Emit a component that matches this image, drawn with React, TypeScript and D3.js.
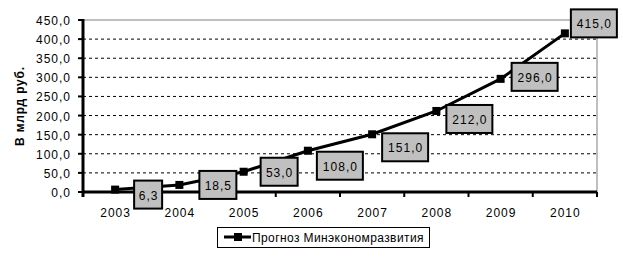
import React from "react";
import * as d3 from "d3";

const years = ["2003", "2004", "2005", "2006", "2007", "2008", "2009", "2010"];
const values = [6.3, 18.5, 53.0, 108.0, 151.0, 212.0, 296.0, 415.0];
const yTicks = [0, 50, 100, 150, 200, 250, 300, 350, 400, 450];
const seriesName = "Прогноз Минэкономразвития";
const yTitle = "В млрд руб.";

// manual label placement offsets (box left/top relative to point)
const labelOffsets: [number, number][] = [
  [19, -9], [20, -14], [17, -14], [9, 1], [10, -1], [10, -6], [11, -16], [6, -24],
];

const fmt = (v: number) => v.toFixed(1).replace(".", ",");

export default function App() {
  const W = 623, H = 259;
  const left = 83, right = 597, top = 20, bottom = 192;
  const x = d3.scaleBand<string>().domain(years).range([left, right]);
  const y = d3.scaleLinear().domain([0, 450]).range([bottom, top]);
  const cx = (yr: string) => (x(yr) as number) + x.bandwidth() / 2;
  const line = d3.line<number>().x((_, i) => cx(years[i])).y((d) => y(d));
  const font = "Arial, 'Liberation Sans', sans-serif";
  const boxW = (s: string) => s.replace(",", "").length * 9 + 10;
  return (
    <svg width={W} height={H} style={{ display: "block", position: "absolute", left: 0, top: 0 }} fontFamily={font}>
      <rect x={0} y={0} width={W} height={H} fill="#fff" />
      {/* gridlines */}
      {yTicks.filter((t) => t > 0 && t < 450).map((t) => (
        <line key={t} x1={left} x2={right} y1={y(t)} y2={y(t)} stroke="#000" strokeWidth={1} strokeDasharray="3,3" />
      ))}
      <line x1={left} x2={right} y1={y(450)} y2={y(450)} stroke="#808080" strokeWidth={1} />
      <line x1={right} x2={right} y1={top} y2={bottom} stroke="#808080" strokeWidth={1} />
      {/* y axis */}
      <line x1={left} x2={left} y1={top - 1} y2={bottom + 5} stroke="#000" strokeWidth={3} />
      {yTicks.map((t) => (
        <g key={t}>
          <line x1={left - 5} x2={left} y1={y(t)} y2={y(t)} stroke="#000" strokeWidth={2} />
          <text x={71} y={y(t) + 5} textAnchor="end" fontSize={12} letterSpacing={1} fill="#000">{fmt(t)}</text>
        </g>
      ))}
      {/* x axis */}
      <line x1={left} x2={right} y1={bottom} y2={bottom} stroke="#000" strokeWidth={3} />
      {years.map((yr) => (
        <g key={yr}>
          <line x1={(x(yr) as number) + x.bandwidth()} x2={(x(yr) as number) + x.bandwidth()} y1={bottom} y2={bottom + 5} stroke="#000" strokeWidth={2} />
          <text x={cx(yr) + 0.5} y={217} textAnchor="middle" fontSize={12} letterSpacing={1} fill="#000">{yr}</text>
        </g>
      ))}
      {/* y title */}
      <text transform={`translate(24,106) rotate(-90)`} textAnchor="middle" fontSize={12} fontWeight="bold" letterSpacing={0.8} fill="#000">{yTitle}</text>
      {/* series */}
      <path d={line(values) || ""} fill="none" stroke="#000" strokeWidth={3} />
      {values.map((v, i) => (
        <rect key={i} x={cx(years[i]) - 4} y={y(v) - 4} width={8} height={8} fill="#000" />
      ))}
      {/* labels */}
      {values.map((v, i) => {
        const label = fmt(v);
        const w = boxW(label);
        const bx = cx(years[i]) + labelOffsets[i][0];
        const by = y(v) + labelOffsets[i][1];
        return (
          <g key={i}>
            <rect x={bx} y={by} width={w} height={28} fill="#c0c0c0" stroke="#000" strokeWidth={2} />
            <text x={bx + w / 2 + 0.5} y={by + 19} textAnchor="middle" fontSize={12} letterSpacing={1} fill="#000">{label}</text>
          </g>
        );
      })}
      {/* legend */}
      <rect x={217.5} y={227.5} width={212} height={20} fill="#fff" stroke="#000" strokeWidth={1} />
      <line x1={224} x2={251} y1={237} y2={237} stroke="#000" strokeWidth={3} />
      <rect x={234} y={233} width={8} height={8} fill="#000" />
      <text x={252} y={242} fontSize={12} letterSpacing={0.4} fill="#000">{seriesName}</text>
    </svg>
  );
}
